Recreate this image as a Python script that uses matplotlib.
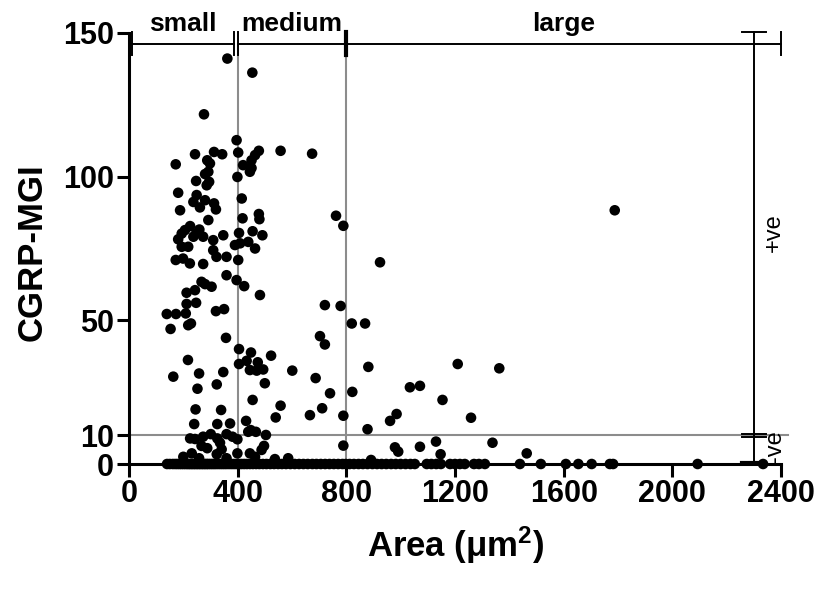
import matplotlib
matplotlib.use('Agg')
import matplotlib.pyplot as plt

plt.rcParams['font.family'] = 'Liberation Sans'
plt.rcParams['mathtext.fontset'] = 'custom'
plt.rcParams['mathtext.rm'] = 'Liberation Sans:bold'
plt.rcParams['mathtext.it'] = 'Liberation Sans:bold'
plt.rcParams['mathtext.bf'] = 'Liberation Sans:bold'

# cells with CGRP signal: soma area (um^2) and mean grey intensity
area_pos = [276, 396, 402, 478, 464, 451, 420, 451, 445, 558, 674, 243, 313, 343,
            172, 288, 298, 292, 280, 247, 399, 295, 286, 181, 249, 415, 237, 280,
            313, 261, 320, 188, 478, 480, 418, 292, 225, 206, 194, 259, 247, 347,
            405, 455, 491, 181, 273, 237, 310, 390, 409, 439, 194, 218, 464, 310,
            322, 359, 172, 199, 224, 273, 402, 359, 396, 424, 267, 280, 304, 243,
            212, 482, 362, 454,
            212, 247, 139, 173, 209, 153, 218, 228, 320, 350, 357, 405, 449, 523,
            405, 433, 474, 445, 470, 494, 601, 500, 687, 217, 258, 163, 347, 252,
            323, 455, 558, 540, 666, 711, 245, 339, 240, 325, 372, 431, 448, 467,
            439, 504, 225, 243, 273, 301, 325, 359, 381, 399, 267, 288, 335, 341,
            497, 488, 200, 231, 323, 399, 445, 464, 537, 586, 258, 359,
            762, 789, 924, 721, 779, 820, 869, 703, 721, 881, 1210, 1363, 740, 822,
            1034, 1071, 1154, 789, 961, 985, 1259, 878, 789, 979, 991, 1071, 1130,
            1147, 1338, 891, 1788, 1464]
mgi_pos = [121.7, 112.7, 108.4, 109.0, 107.5, 105.7, 104.0, 103.0, 101.7, 109.0, 108.0,
           107.8, 108.6, 107.8, 104.3, 105.7, 104.6, 101.7, 100.9, 98.5, 99.9, 98.2,
           97.0, 94.4, 93.6, 92.4, 91.2, 91.8, 90.7, 89.3, 88.6, 88.3, 87.0, 85.2,
           85.5, 84.9, 82.8, 81.4, 80.2, 81.6, 80.2, 79.6, 80.4, 81.0, 79.6, 78.2,
           79.1, 79.1, 77.9, 76.2, 76.8, 77.3, 75.6, 75.6, 75.0, 74.4, 72.1, 72.1,
           71.0, 71.5, 69.8, 69.6, 71.0, 65.7, 64.0, 61.9, 63.4, 62.6, 61.7, 60.5,
           59.6, 58.8, 141.1, 136.2,
           55.7, 56.1, 52.2, 52.2, 52.4, 47.0, 48.3, 48.9, 53.2, 53.9, 43.9, 40.0,
           38.8, 37.7, 34.8, 35.9, 35.4, 32.7, 32.5, 32.9, 32.5, 28.1, 29.9, 36.2,
           31.5, 30.4, 32.0, 26.2, 27.7, 22.3, 20.3, 16.2, 17.0, 19.4, 19.0, 18.8,
           13.9, 13.9, 14.1, 15.0, 11.8, 11.2, 11.2, 10.1, 8.9, 8.7, 9.5, 10.4, 8.9,
           10.4, 9.5, 8.6, 6.3, 5.5, 7.4, 5.1, 6.3, 4.9, 2.5, 3.7, 3.4, 3.7, 3.7,
           2.5, 1.7, 2.0, 2.0, 2.0,
           86.4, 82.9, 70.2, 55.3, 55.0, 48.9, 48.9, 44.5, 41.6, 33.8, 34.8, 33.3,
           24.6, 25.1, 26.7, 27.2, 22.3, 16.8, 15.0, 17.4, 16.1, 12.1, 6.4, 5.8,
           4.3, 6.0, 7.8, 3.4, 7.4, 1.4, 88.3, 3.7]

# cells scored at zero intensity
area_zero = [140, 150, 161, 170, 178, 186, 193, 200, 207, 214, 220, 226, 232, 238,
             244, 250, 256, 262, 268, 274, 280, 286, 292, 299, 306, 313, 320, 328,
             336, 344, 352, 360, 369, 378, 387, 396, 405, 414, 424, 434, 445, 456,
             468, 480, 493, 506, 520, 534, 549, 563, 578, 594, 610, 626, 642, 658,
             675, 690, 706, 722, 738, 754, 770, 786, 798, 812, 828, 845, 861, 878,
             896, 913, 930, 947, 965, 982, 1000, 1018, 1036, 1052, 1096, 1113, 1131,
             1148, 1182, 1200, 1218, 1236, 1270, 1288, 1310, 1439, 1516, 1608, 1654,
             1703, 1770, 1782, 2093, 2334]

size_classes = ['small', 'medium', 'large']
class_ranges = [(10, 385), (400, 800), (800, 2400)]
x_ticks = [0, 400, 800, 1200, 1600, 2000, 2400]
y_ticks = [0, 10, 50, 100, 150]
threshold = 10

fig = plt.figure(figsize=(8.26, 5.93), dpi=100)
ax = fig.add_axes([129 / 826, 1 - 464 / 593, 652 / 826, 431 / 593])

grey = '#8c8c8c'
# size class boundaries and positive/negative threshold
for b in [400, 800]:
    ax.plot([b, b], [0, 146.3], color=grey, lw=1.5, zorder=1, clip_on=False)
ax.plot([0, 2425], [threshold, threshold], color=grey, lw=1.5, zorder=1, clip_on=False)

all_area = area_pos + area_zero
all_mgi = mgi_pos + [0] * len(area_zero)
ax.scatter(all_area, all_mgi, s=58, c='black', edgecolors='none', zorder=3, clip_on=False)

# size class brackets along the top
ybr = 146.3
for name, (lo, hi) in zip(size_classes, class_ranges):
    ax.plot([lo, hi], [ybr, ybr], color='black', lw=1.4, clip_on=False)
    ax.plot([lo, lo], [142.3, 150.3], color='black', lw=1.4, clip_on=False)
    ax.plot([hi, hi], [142.3, 150.3], color='black', lw=1.4, clip_on=False)
    ax.text((lo + hi) / 2, 150.6, name, ha='center', va='baseline',
            fontsize=19, fontweight='bold')
ax.plot([800, 800], [142.3, 150.3], color='black', lw=3, clip_on=False)

# +ve / -ve bracket on the right
xb = 2302
ax.plot([xb, xb], [0, 150.3], color='black', lw=1.4, clip_on=False)
ax.plot([2256, 2345], [150.3, 150.3], color='black', lw=1.4, clip_on=False)
ax.plot([2256, 2345], [10.6, 10.6], color='black', lw=1.4, clip_on=False)
ax.plot([2256, 2345], [9.4, 9.4], color='black', lw=1.4, clip_on=False)
ax.plot([2256, 2318], [0.4, 0.4], color='black', lw=3, clip_on=False)
ax.text(2372, 80.5, '+ve', rotation=90, ha='center', va='center', fontsize=17)
ax.text(2378, 6, '-ve', rotation=90, ha='center', va='center', fontsize=17)

ax.set_xlim(0, 2400)
ax.set_ylim(0, 150)
ax.set_xticks(x_ticks)
ax.set_yticks(y_ticks)
for side in ['top', 'right']:
    ax.spines[side].set_visible(False)
for side in ['left', 'bottom']:
    ax.spines[side].set_linewidth(2.2)
ax.tick_params(axis='both', length=9, width=2.2, labelsize=22, pad=2)
for lab in ax.get_xticklabels() + ax.get_yticklabels():
    lab.set_fontweight('bold')

fig.text(32 / 826, 1 - 252 / 593, 'CGRP-MGI', rotation=90, ha='center', va='center',
         fontsize=25, fontweight='bold')
fig.text(456 / 826, 1 - 545 / 593, 'Area (μm$^{2}$)', ha='center', va='center',
         fontsize=25, fontweight='bold')

fig.savefig('out.png', dpi=100)
